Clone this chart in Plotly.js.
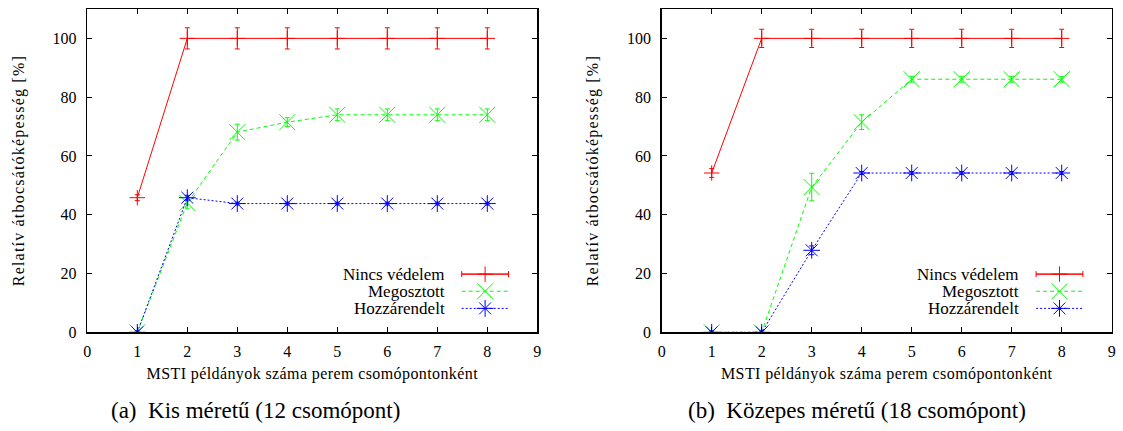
<!DOCTYPE html>
<html>
<head>
<meta charset="utf-8">
<script src="https://cdn.plot.ly/plotly-3.0.1.min.js"></script>
<style>
html,body{margin:0;padding:0;background:#fff;}
#chart{width:1123px;height:431px;}
#chart .g-ytitle text, #chart .g-y2title text{letter-spacing:1.2px;}
#chart .g-xtitle text, #chart .g-x2title text{letter-spacing:0.4px;}
</style>
</head>
<body>
<div id="chart"></div>
<script>
// ---- data ----
const xs = [1, 2, 3, 4, 5, 6, 7, 8];
const seriesNames = ["Nincs védelem", "Megosztott", "Hozzárendelt"];

// (a) Kis méretű (12 csomópont)
const smallNincs      = [45.8, 100, 100, 100, 100, 100, 100, 100];
const smallNincsErr   = [1.0, 3.6, 3.6, 3.6, 3.6, 3.6, 3.6, 3.6];
const smallMegosztott = [0, 44.0, 68.1, 71.5, 74.0, 74.0, 74.0, 74.0];
const smallMegErr     = [0.5, 2.0, 2.7, 1.5, 2.0, 2.0, 2.0, 2.0];
const smallHozza      = [0, 45.8, 43.8, 43.8, 43.8, 43.8, 43.8, 43.8];
const smallHozzaErr   = [0.5, 0.8, 0.5, 0.5, 0.5, 0.5, 0.5, 0.5];

// (b) Közepes méretű (18 csomópont)
const midNincs      = [54.2, 100, 100, 100, 100, 100, 100, 100];
const midNincsErr   = [1.5, 3.1, 3.1, 3.1, 3.1, 3.1, 3.1, 3.1];
const midMegosztott = [0, 0, 49.4, 71.5, 86.1, 86.1, 86.1, 86.1];
const midMegErr     = [0.5, 0.5, 4.7, 2.5, 1.0, 1.0, 1.0, 1.0];
const midHozza      = [0, 0, 27.9, 54.2, 54.2, 54.2, 54.2, 54.2];
const midHozzaErr   = [0.5, 0.5, 1.5, 0.5, 0.5, 0.5, 0.5, 0.5];

const xTickVals = [0, 1, 2, 3, 4, 5, 6, 7, 8, 9];
const yTickVals = [0, 20, 40, 60, 80, 100];
const xTitle = "MSTI példányok száma perem csomópontonként";
const yTitle = "Relatív átbocsátóképesség [%]";
const captions = ["(a)  Kis méretű (12 csomópont)", "(b)  Közepes méretű (18 csomópont)"];

// ---- styles ----
const FONT = "Liberation Serif";
const colors = ["#ff0000", "#00ff00", "#0000ff"];
const dashes = ["solid", "4px,3px", "2px,2px"];
const symbols = ["cross-thin-open", "x-thin-open", "asterisk-open"];
const sizes = [11, 16, 14];

function seriesTrace(i, y, err, xa, ya) {
  return {
    type: "scatter", mode: "lines+markers", x: xs, y: y,
    xaxis: xa, yaxis: ya, showlegend: false, hoverinfo: "skip",
    line: {color: colors[i], width: 1, dash: dashes[i]},
    marker: {symbol: symbols[i], size: sizes[i], color: colors[i],
             line: {color: colors[i], width: 1}},
    error_y: {type: "data", array: err, visible: true, color: colors[i],
              thickness: 1, width: 2.5}
  };
}

// legend sample geometry in overlay (0..1) units
const legX0 = 0.832, legX1 = 0.936, legXm = 0.884;
const legRows = [0.180, 0.127, 0.074];
const legTextX = 0.799;

function legendTraces(xa, ya) {
  const out = [];
  for (let i = 0; i < 3; i++) {
    out.push({type: "scatter", mode: "lines", x: [legX0, legX1], y: [legRows[i], legRows[i]],
      xaxis: xa, yaxis: ya, showlegend: false, hoverinfo: "skip",
      line: {color: colors[i], width: 1, dash: dashes[i]}});
    const m = {type: "scatter", mode: "markers", x: [legXm], y: [legRows[i]],
      xaxis: xa, yaxis: ya, showlegend: false, hoverinfo: "skip",
      marker: {symbol: symbols[i], size: sizes[i], color: colors[i],
               line: {color: colors[i], width: 1}}};
    if (i === 0) {
      m.error_x = {type: "data", array: [(legX1 - legX0) / 2], visible: true,
                   color: colors[0], thickness: 1, width: 3};
    }
    out.push(m);
  }
  return out;
}

const data = [
  seriesTrace(0, smallNincs, smallNincsErr, "x", "y"),
  seriesTrace(1, smallMegosztott, smallMegErr, "x", "y"),
  seriesTrace(2, smallHozza, smallHozzaErr, "x", "y"),
  seriesTrace(0, midNincs, midNincsErr, "x2", "y2"),
  seriesTrace(1, midMegosztott, midMegErr, "x2", "y2"),
  seriesTrace(2, midHozza, midHozzaErr, "x2", "y2"),
  ...legendTraces("x3", "y3"),
  ...legendTraces("x4", "y4")
];

const W = 1123, H = 431;
const domL = [87.3 / W, 537.3 / W];
const domR = [661.7 / W, 1111.7 / W];
const domY = [(H - 332.3) / H, (H - 9) / H];

function xAxis(dom, anchor) {
  return {domain: dom, anchor: anchor, range: [0, 9], tickvals: xTickVals,
    ticks: "inside", ticklen: 5, tickwidth: 1, tickcolor: "#000",
    showline: true, linecolor: "#000", linewidth: 1.5, mirror: "allticks",
    showgrid: false, zeroline: false, ticklabelstandoff: 4,
    tickfont: {family: FONT, size: 16, color: "#000"},
    title: {text: xTitle, font: {family: FONT, size: 16, color: "#000"}, standoff: 9}};
}
function yAxis(dom, anchor) {
  return {domain: dom, anchor: anchor, range: [0, 110], tickvals: yTickVals,
    ticks: "inside", ticklen: 5, tickwidth: 1, tickcolor: "#000",
    showline: true, linecolor: "#000", linewidth: 1.5, mirror: "allticks",
    showgrid: false, zeroline: false, ticklabelstandoff: 6,
    tickfont: {family: FONT, size: 16, color: "#000"},
    title: {text: yTitle, font: {family: FONT, size: 16, color: "#000"}, standoff: 24}};
}
function overlayAxis(dom, over, anchor) {
  return {domain: dom, overlaying: over, anchor: anchor, range: [0, 1], visible: false, fixedrange: true};
}

const annotations = [];
[[domL, "x3", "y3"], [domR, "x4", "y4"]].forEach(([dom, xa, ya]) => {
  for (let i = 0; i < 3; i++) {
    annotations.push({xref: xa, yref: ya, x: legTextX, y: legRows[i], text: seriesNames[i],
      showarrow: false, xanchor: "right", yanchor: "middle",
      font: {family: FONT, size: 17, color: "#000"}});
  }
});
annotations.push({xref: "paper", yref: "paper", x: 255 / W, y: (H - 410) / H, text: captions[0],
  showarrow: false, xanchor: "center", yanchor: "middle", font: {family: FONT, size: 23, color: "#000"}});
annotations.push({xref: "paper", yref: "paper", x: 857 / W, y: (H - 410) / H, text: captions[1],
  showarrow: false, xanchor: "center", yanchor: "middle", font: {family: FONT, size: 23, color: "#000"}});

const layout = {
  width: W, height: H, margin: {l: 0, r: 0, t: 0, b: 0},
  paper_bgcolor: "#fff", plot_bgcolor: "#fff", showlegend: false,
  font: {family: FONT},
  xaxis: xAxis(domL, "y"), yaxis: yAxis(domY, "x"),
  xaxis2: xAxis(domR, "y2"), yaxis2: yAxis(domY, "x2"),
  xaxis3: overlayAxis(domL, "x", "y3"), yaxis3: overlayAxis(domY, "y", "x3"),
  xaxis4: overlayAxis(domR, "x2", "y4"), yaxis4: overlayAxis(domY, "y2", "x4"),
  annotations: annotations
};

Plotly.newPlot("chart", data, layout, {staticPlot: true, displayModeBar: false});
</script>
</body>
</html>
